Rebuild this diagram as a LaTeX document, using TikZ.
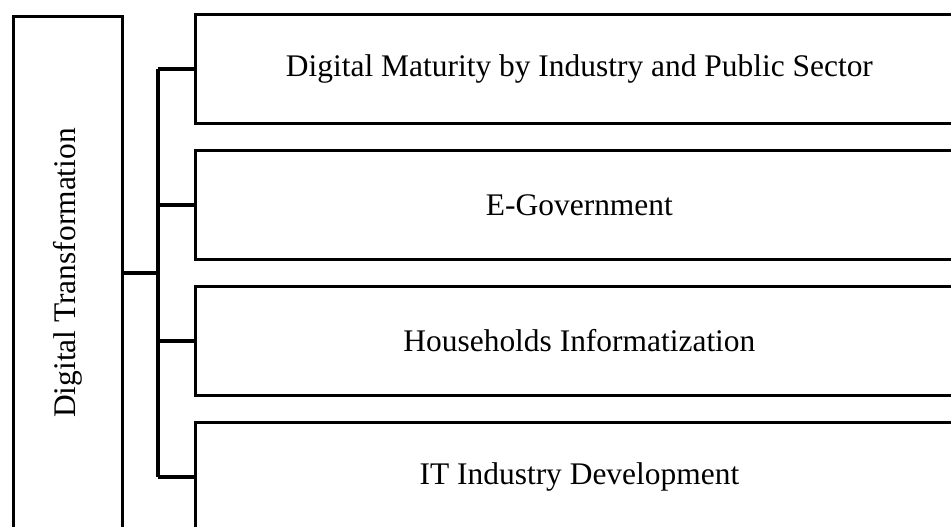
\documentclass[tikz,border=0pt]{standalone}
\usepackage{fontspec}
\setmainfont{Liberation Serif}
\usetikzlibrary{positioning}

\begin{document}
\begin{tikzpicture}[x=0.02cm, y=-0.02cm,
  areabox/.style={draw, line width=1.7pt, minimum width=15.36cm,
    minimum height=2.18cm, inner sep=0pt, anchor=west,
    font=\fontsize{17.9}{21}\selectfont},
  sidebox/.style={draw, line width=1.7pt, minimum width=2.18cm,
    minimum height=10.27cm, inner sep=0pt,
    font=\fontsize{17.9}{21}\selectfont},
  wire/.style={line width=2.3pt},
  node distance=0.48cm
]
\useasboundingbox (0,0) rectangle (951,527);
\node[sidebox] (trans) at (68,273) {\rotatebox{90}{Digital Transformation}};
\node[areabox] (maturity) at (194,69) {Digital Maturity by Industry and Public Sector};
\node[areabox, below=of maturity] (egov) {E-Government};
\node[areabox, below=of egov] (household) {Households Informatization};
\node[areabox, below=of household] (itdev) {IT Industry Development};
% bracket between the side box and the four areas
\coordinate (spine) at (158,0);
\draw[wire] (trans.east) -- (trans.east -| spine);
\draw[wire] (maturity.west -| spine) -- (itdev.west -| spine);
\foreach \b in {maturity, egov, household, itdev}
  \draw[wire] (\b.west -| spine) -- (\b.west);
\end{tikzpicture}
\end{document}
